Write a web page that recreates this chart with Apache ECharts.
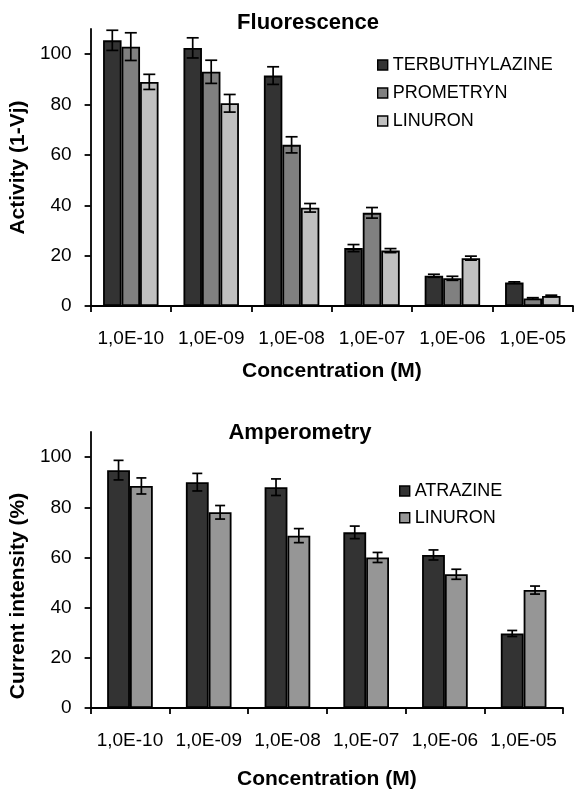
<!DOCTYPE html>
<html>
<head>
<meta charset="utf-8">
<script src="https://cdn.jsdelivr.net/npm/echarts@6/dist/echarts.min.js"></script>
<style>
html,body{margin:0;padding:0;background:#fff;}
#chart{width:574px;height:791px;}
</style>
</head>
<body>
<div id="chart"></div>
<script>
// ---- data ----
var categories = ['1,0E-10', '1,0E-09', '1,0E-08', '1,0E-07', '1,0E-06', '1,0E-05'];
var yTicks = [0, 20, 40, 60, 80, 100];

// Fluorescence
var terbuthylazine = [105.5, 102.5, 91.5, 23, 12, 9.3];
var terbuthylazineErr = [4, 4, 3.5, 1.4, 0.6, 0.3];
var prometryn = [103, 93, 64, 37, 11, 3];
var prometrynErr = [5.5, 4.6, 3.2, 2.1, 0.8, 0.3];
var linuronFluo = [89, 80.5, 39, 22, 19, 4];
var linuronFluoErr = [3, 3.5, 1.7, 0.8, 0.8, 0.3];

// Amperometry
var atrazine = [94.8, 90, 88, 70, 61, 29.7];
var atrazineErr = [3.9, 3.5, 3.3, 2.5, 2, 1.2];
var linuronAmp = [88.5, 78, 68.7, 60, 53.3, 47];
var linuronAmpErr = [3.2, 2.7, 2.8, 2, 2, 1.6];

var FONT = 'Liberation Sans, Arial, sans-serif';
var chart = echarts.init(document.getElementById('chart'));

function errData(vals, errs) {
  return vals.map(function (v, i) { return [i, v, errs[i]]; });
}

function errSeries(name, grid, vals, errs, idx, n, gapFrac, capW) {
  return {
    type: 'custom',
    name: name + '_err',
    xAxisIndex: grid, yAxisIndex: grid,
    z: 10,
    silent: true,
    data: errData(vals, errs),
    renderItem: function (params, api) {
      var ci = api.value(0), v = api.value(1), e = api.value(2);
      var c = api.coord([ci, v]);
      var band = api.size([1, 0])[0];
      var groupW = band * (1 - gapFrac);
      var bw = groupW / n;
      var x = c[0] - groupW / 2 + (idx + 0.5) * bw;
      var yHi = api.coord([ci, v + e])[1];
      var yLo = api.coord([ci, v - e])[1];
      var st = { stroke: '#000', lineWidth: 1.7 };
      return {
        type: 'group',
        children: [
          { type: 'line', shape: { x1: x, y1: yHi, x2: x, y2: yLo }, style: st },
          { type: 'line', shape: { x1: x - capW / 2, y1: yHi, x2: x + capW / 2, y2: yHi }, style: st },
          { type: 'line', shape: { x1: x - capW / 2, y1: yLo, x2: x + capW / 2, y2: yLo }, style: st }
        ]
      };
    }
  };
}

function barSeries(name, grid, vals, color, gap) {
  return {
    type: 'bar', name: name, xAxisIndex: grid, yAxisIndex: grid,
    data: vals, barGap: '0%', barCategoryGap: gap,
    itemStyle: { color: color, borderColor: '#000', borderWidth: 1.8 },
    emphasis: { disabled: true }
  };
}

var axisLineStyle = { color: '#000', width: 1.8 };

function xAx(grid, nameGap) {
  return {
    type: 'category', gridIndex: grid, data: categories,
    name: 'Concentration (M)', nameLocation: 'middle', nameGap: nameGap,
    nameTextStyle: { fontFamily: FONT, fontWeight: 'bold', fontSize: 21, color: '#000' },
    axisLine: { lineStyle: axisLineStyle },
    axisTick: { show: true, length: 6, lineStyle: axisLineStyle, interval: 0 },
    axisLabel: { fontFamily: FONT, fontSize: 19, color: '#000', margin: 23, interval: 0 },
    splitLine: { show: false }
  };
}
function yAx(grid, name, nameGap, pad) {
  return {
    type: 'value', gridIndex: grid, min: 0, max: 110, interval: 20,
    name: name, nameLocation: 'middle', nameGap: nameGap,
    nameTextStyle: { fontFamily: FONT, fontWeight: 'bold', fontSize: 21, color: '#000', padding: pad },
    axisLine: { show: true, lineStyle: axisLineStyle },
    axisTick: { show: true, length: 6, lineStyle: axisLineStyle, customValues: yTicks },
    axisLabel: { fontFamily: FONT, fontSize: 19, color: '#000', margin: 19, customValues: yTicks },
    splitLine: { show: false }
  };
}

var option = {
  animation: false,
  backgroundColor: '#fff',
  title: [
    { text: 'Fluorescence', left: 308, top: 12, textAlign: 'center', padding: 0,
      textStyle: { fontFamily: FONT, fontWeight: 'bold', fontSize: 22, color: '#000' } },
    { text: 'Amperometry', left: 300, top: 422, textAlign: 'center', padding: 0,
      textStyle: { fontFamily: FONT, fontWeight: 'bold', fontSize: 22, color: '#000' } }
  ],
  legend: [
    { orient: 'vertical', left: 377, top: 56, padding: 0, itemWidth: 10, itemHeight: 10, itemGap: 10,
      textStyle: { fontFamily: FONT, fontSize: 18, color: '#000' },
      data: [
        { name: 'TERBUTHYLAZINE', icon: 'rect', itemStyle: { color: '#333333', borderColor: '#000', borderWidth: 1.4 } },
        { name: 'PROMETRYN', icon: 'rect', itemStyle: { color: '#808080', borderColor: '#000', borderWidth: 1.4 } },
        { name: 'LINURON', icon: 'rect', itemStyle: { color: '#c0c0c0', borderColor: '#000', borderWidth: 1.4 } }
      ] },
    { orient: 'vertical', left: 399, top: 482, padding: 0, itemWidth: 10, itemHeight: 10, itemGap: 8.7,
      textStyle: { fontFamily: FONT, fontSize: 18, color: '#000' },
      data: [
        { name: 'ATRAZINE', icon: 'rect', itemStyle: { color: '#333333', borderColor: '#000', borderWidth: 1.4 } },
        { name: 'LINURON ', icon: 'rect', itemStyle: { color: '#969696', borderColor: '#000', borderWidth: 1.4 } }
      ] }
  ],
  grid: [
    { left: 84, right: 1, top: 29, height: 277, containLabel: false },
    { left: 86, right: 11, top: 432, height: 282, containLabel: false }
  ],
  xAxis: [xAx(0, 55), xAx(1, 61)],
  yAxis: [yAx(0, 'Activity (1-Vj)', 46, 0), yAx(1, 'Current intensity (%)', 48, [0, 52, 0, 0])],
  series: [
    barSeries('TERBUTHYLAZINE', 0, terbuthylazine, '#333333', '31%'),
    barSeries('PROMETRYN', 0, prometryn, '#808080', '31%'),
    barSeries('LINURON', 0, linuronFluo, '#c0c0c0', '31%'),
    errSeries('TERBUTHYLAZINE', 0, terbuthylazine, terbuthylazineErr, 0, 3, 0.31, 12),
    errSeries('PROMETRYN', 0, prometryn, prometrynErr, 1, 3, 0.31, 12),
    errSeries('LINURON', 0, linuronFluo, linuronFluoErr, 2, 3, 0.31, 12),
    barSeries('ATRAZINE', 1, atrazine, '#333333', '42%'),
    barSeries('LINURON ', 1, linuronAmp, '#969696', '42%'),
    errSeries('ATRAZINE', 1, atrazine, atrazineErr, 0, 2, 0.42, 10),
    errSeries('LINURON ', 1, linuronAmp, linuronAmpErr, 1, 2, 0.42, 10)
  ]
};
chart.setOption(option);
</script>
</body>
</html>
